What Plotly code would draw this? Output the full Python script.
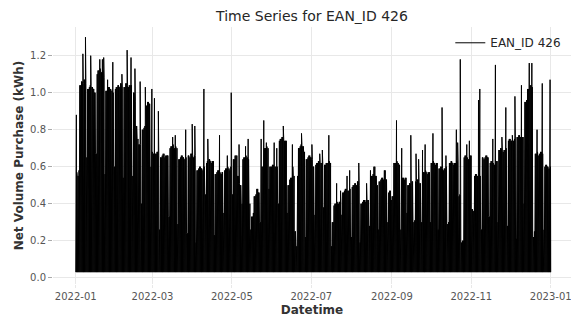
import numpy as np
import pandas as pd
import plotly.graph_objects as go

# ---- data (kWh) ----
start_date = "2022-01-01"
night_min = 0.03   # typical lowest hourly purchase

# typical daily high, one value per day of 2022 (rows of 7 days starting Sat 1 Jan)
daily_level = [
    0.57, 0.55, 0.58, 1.04, 1.06, 1.05, 1.07,
    1.05, 0.65, 1.02, 1.03, 1.04, 1.03, 1.02,
    1.00, 0.67, 1.10, 1.12, 1.13, 1.11, 1.12,
    1.08, 0.56, 1.01, 1.02, 1.03, 1.02, 1.01,
    1.00, 0.60, 1.02, 1.03, 1.04, 1.03, 1.05,
    1.02, 0.54, 1.03, 1.05, 1.04, 1.03, 1.04,
    1.04, 0.55, 1.00, 0.95, 0.82, 0.75, 0.72,
    0.72, 0.40, 0.80, 0.81, 0.82, 0.93, 0.95,
    0.94, 0.60, 0.68, 0.67, 0.66, 0.67, 0.68,
    0.66, 0.26, 0.65, 0.66, 0.67, 0.65, 0.66,
    0.66, 0.33, 0.70, 0.71, 0.72, 0.70, 0.71,
    0.70, 0.29, 0.64, 0.65, 0.66, 0.65, 0.64,
    0.65, 0.24, 0.66, 0.65, 0.67, 0.66, 0.65,
    0.66, 0.19, 0.58, 0.59, 0.60, 0.59, 0.58,
    0.60, 0.45, 0.62, 0.63, 0.64, 0.63, 0.62,
    0.63, 0.23, 0.56, 0.57, 0.58, 0.57, 0.56,
    0.57, 0.35, 0.58, 0.59, 0.60, 0.59, 0.58,
    0.60, 0.45, 0.64, 0.66, 0.66, 0.55, 0.51,
    0.50, 0.40, 0.64, 0.65, 0.66, 0.65, 0.64,
    0.40, 0.26, 0.33, 0.35, 0.44, 0.45, 0.48,
    0.46, 0.30, 0.50, 0.60, 0.70, 0.70, 0.71,
    0.70, 0.48, 0.60, 0.60, 0.61, 0.60, 0.60,
    0.60, 0.40, 0.74, 0.75, 0.76, 0.75, 0.74,
    0.74, 0.35, 0.50, 0.53, 0.54, 0.60, 0.55,
    0.25, 0.17, 0.55, 0.70, 0.71, 0.72, 0.71,
    0.68, 0.22, 0.64, 0.65, 0.66, 0.65, 0.64,
    0.60, 0.34, 0.61, 0.62, 0.63, 0.62, 0.62,
    0.62, 0.38, 0.61, 0.62, 0.62, 0.63, 0.62,
    0.17, 0.30, 0.39, 0.40, 0.41, 0.40, 0.41,
    0.41, 0.34, 0.46, 0.47, 0.48, 0.47, 0.47,
    0.48, 0.22, 0.49, 0.50, 0.51, 0.50, 0.52,
    0.50, 0.19, 0.40, 0.41, 0.42, 0.41, 0.42,
    0.42, 0.28, 0.54, 0.55, 0.56, 0.60, 0.55,
    0.50, 0.26, 0.52, 0.53, 0.54, 0.53, 0.58,
    0.53, 0.30, 0.46, 0.47, 0.42, 0.44, 0.50,
    0.62, 0.63, 0.62, 0.61, 0.26, 0.53, 0.54,
    0.53, 0.54, 0.35, 0.50, 0.51, 0.50, 0.52,
    0.30, 0.31, 0.52, 0.53, 0.52, 0.51, 0.30,
    0.56, 0.57, 0.58, 0.57, 0.56, 0.57, 0.30,
    0.62, 0.63, 0.62, 0.61, 0.62, 0.26, 0.59,
    0.60, 0.59, 0.58, 0.59, 0.60, 0.29, 0.30,
    0.62, 0.63, 0.62, 0.61, 0.62, 0.63, 0.62,
    0.44, 0.45, 0.19, 0.20, 0.65, 0.66, 0.65,
    0.64, 0.65, 0.66, 0.37, 0.36, 0.55, 0.56,
    0.55, 0.54, 0.55, 0.26, 0.65, 0.64, 0.65,
    0.66, 0.65, 0.33, 0.62, 0.63, 0.62, 0.61,
    0.62, 0.63, 0.30, 0.69, 0.70, 0.69, 0.68,
    0.69, 0.70, 0.28, 0.74, 0.75, 0.74, 0.73,
    0.74, 0.75, 0.21, 0.76, 0.77, 0.76, 0.75,
    0.76, 0.40, 0.95, 0.96, 1.02, 1.03, 1.04,
    1.03, 0.22, 0.25, 0.67, 0.68, 0.66, 0.67,
    0.68, 0.67, 0.26, 0.60, 0.61, 0.60, 0.59,
    0.60,
]

# single-hour peaks (day of year index, kWh)
spike_day = [0, 5, 7, 11, 18, 20, 21, 24, 28, 35, 39, 42, 45, 49, 53, 58, 60, 63,
             74, 76, 84, 89, 91, 98, 101, 110, 116, 119, 125, 130, 132, 142, 144,
             146, 152, 154, 159, 166, 173, 181, 187, 189, 194, 200, 203, 208, 210,
             217, 223, 226, 237, 244, 246, 250, 257, 261, 263, 266, 268, 274, 281,
             284, 292, 293, 295, 300, 302, 309, 310, 320, 322, 327, 330, 333, 335,
             337, 341, 342, 348, 350, 354, 358, 364]
spike_value = [0.88, 1.21, 1.30, 1.20, 1.18, 1.18, 1.19, 1.07, 1.165, 1.10, 1.23, 1.19,
               1.13, 1.06, 1.03, 1.02, 0.97, 0.90, 0.76, 0.77, 0.80, 0.83, 0.82, 1.02,
               0.75, 0.77, 0.66, 1.00, 0.72, 0.71, 0.75, 0.75, 0.85, 0.73, 0.73, 0.70,
               0.82, 0.72, 0.78, 0.72, 0.67, 0.69, 0.77, 0.51, 0.47, 0.55, 0.58, 0.62,
               0.51, 0.58, 0.58, 0.62, 0.85, 0.70, 0.77, 0.67, 0.64, 0.69, 0.72, 0.78,
               0.92, 0.66, 0.80, 0.73, 1.18, 0.72, 0.74, 0.96, 1.02, 0.75, 1.15, 0.76,
               0.92, 0.75, 0.77, 0.98, 0.73, 1.04, 1.16, 1.16, 0.80, 1.05, 1.07]

# ---- build the series (4-hour samples) ----
level = np.array(daily_level)
peak = level.copy()
for d, v in zip(spike_day, spike_value):
    peak[d] = max(peak[d], v)

n_days = len(level)
vals = []
for d in range(n_days):
    vals += [night_min, level[d], night_min, peak[d], night_min, level[d]]
vals.append(night_min)
times = pd.date_range(start_date, periods=len(vals), freq="4h")

fig = go.Figure()
fig.add_trace(go.Scatter(
    x=times, y=vals, mode="lines", name="EAN_ID 426",
    line=dict(color="black", width=1),
))

grid = "#e8e8e8"
tickc = "#555555"
fig.update_layout(
    width=571, height=321,
    margin=dict(l=53, r=0, t=27, b=37),
    paper_bgcolor="white", plot_bgcolor="white",
    font=dict(family="DejaVu Sans", color="#333333"),
    title=dict(text="Time Series for EAN_ID 426", x=0.5, xref="paper",
               xanchor="center", y=1 - 16.5 / 321, yanchor="middle",
               font=dict(size=14, color="#262626")),
    showlegend=True,
    legend=dict(x=0.767, y=0.995, xanchor="left", yanchor="top",
                bgcolor="rgba(0,0,0,0)", font=dict(size=12, color="#262626")),
)
fig.update_xaxes(
    range=["2021-12-14 13:00", "2023-01-16 14:00"],
    tickvals=["2022-01-01", "2022-03-01", "2022-05-01", "2022-07-01",
              "2022-09-01", "2022-11-01", "2023-01-01"],
    ticktext=["2022-01", "2022-03", "2022-05", "2022-07", "2022-09", "2022-11", "2023-01"],
    ticklabeloverflow="allow",
    showgrid=True, gridcolor=grid, gridwidth=1, zeroline=False, showline=False,
    ticks="outside", ticklen=3, tickcolor=grid,
    tickfont=dict(size=10, color=tickc),
    title=dict(text="<b>Datetime</b>", font=dict(size=12, color="#333333"), standoff=4),
)
fig.update_yaxes(
    range=[-0.034, 1.355],
    tickvals=[0.0, 0.2, 0.4, 0.6, 0.8, 1.0, 1.2],
    ticktext=["0.0", "0.2", "0.4", "0.6", "0.8", "1.0", "1.2"],
    showgrid=True, gridcolor=grid, gridwidth=1, zeroline=False, showline=False,
    ticks="outside", ticklen=4, tickcolor="#aaaaaa",
    tickfont=dict(size=10, color=tickc),
    title=dict(text="<b>Net Volume Purchase (kWh)</b>", font=dict(size=12, color="#333333"),
               standoff=3),
)

fig.write_html("out.html")
